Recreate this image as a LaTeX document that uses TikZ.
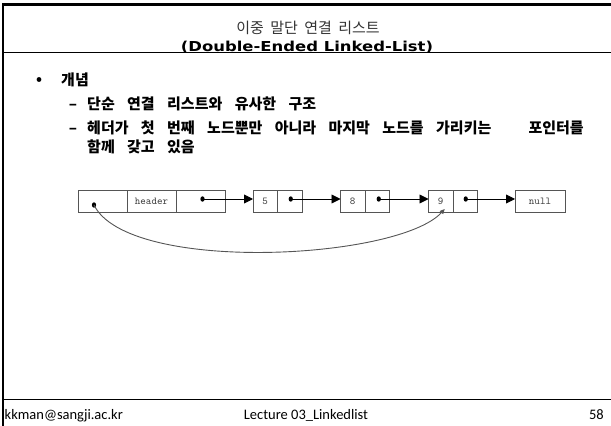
\documentclass[tikz,border=0pt]{standalone}
\usepackage{fontspec}
\setmainfont{Noto Sans CJK KR}
\newfontfamily\kr{Noto Sans CJK KR}
\newfontfamily\krw[WordSpace=1.8]{Noto Sans CJK KR}
\newfontfamily\krt[WordSpace=1.9]{Noto Sans CJK KR}
\newfontfamily\ttl[FakeStretch=1.2]{DejaVu Sans Bold}
\newfontfamily\foot{Carlito}
\usetikzlibrary{arrows.meta,calc}
\definecolor{boxgray}{HTML}{555555}
\definecolor{txtgray}{HTML}{3C3C3C}
\begin{document}
\begin{tikzpicture}[x=1pt,y=1pt,
  cellbox/.style={draw=boxgray,line width=0.9pt,minimum height=22pt,inner sep=0pt,outer sep=0pt,font=\ttfamily\fontsize{10.5}{12}\selectfont,text=txtgray},
  wide/.style={cellbox,minimum width=49pt},
  narrow/.style={cellbox,minimum width=24.5pt},
  ptr/.style={line width=0.9pt,-{Triangle[length=9pt,width=9pt]}},
  dotmark/.style={fill=black,draw=none},
  frame/.style={line width=2.4pt,black},
  rule/.style={line width=1pt,black},
  bodytxt/.style={inner sep=0pt,anchor=base west,font=\krw\bfseries\fontsize{15}{18}\selectfont},
  marktxt/.style={inner sep=0pt,anchor=base,font=\kr\bfseries\fontsize{15}{18}\selectfont},
  foottxt/.style={inner sep=0pt,font=\foot\fontsize{14.5}{16}\selectfont}
]
\useasboundingbox (0,0) rectangle (611,426);
% frame
\draw[frame] (3,0) -- (3,421.3) -- (611,421.3);
\draw[rule] (3,373.7) -- (611,373.7);
\draw[rule] (3,26) -- (611,26);
% title
\node[inner sep=0pt,anchor=base,font=\krt\fontsize{15}{18}\selectfont,text=black!80] (t1) at (308,392) {이중 말단 연결 리스트};
\node[inner sep=0pt,anchor=base,font=\ttl\fontsize{13.7}{16}\selectfont] (t2) at (307,374.6) {(Double-Ended Linked-List)};
% bullets
\node[marktxt] (b0) at (39,341) {•};
\node[bodytxt] (b1) at (61,340) {개념};
\node[marktxt] (d1) at (73,316) {–};
\node[bodytxt] (s1) at (87,316) {단순 연결 리스트와 유사한 구조};
\node[marktxt] (d2) at (73,292) {–};
\node[bodytxt] (s2) at (87,292) {헤더가 첫 번째 노드뿐만 아니라 마지막 노드를 가리키는\ \ \ 포인터를};
\node[bodytxt] (s3) at (87,273) {함께 갖고 있음};
% list
\node[wide] (h1) at (102.5,225) {};
\node[wide] (h2) at (151.5,225) {header};
\node[wide] (h3) at (200.5,225) {};
\node[narrow] (n5a) at (265.25,225) {5};
\node[narrow] (n5b) at (289.75,225) {};
\node[narrow] (n8a) at (352.75,225) {8};
\node[narrow] (n8b) at (377.25,225) {};
\node[narrow] (n9a) at (440.75,225) {9};
\node[narrow] (n9b) at (465.25,225) {};
\node[cellbox,minimum width=50pt] (nl) at (540,225) {null};
% pointers
\coordinate (p0) at ($(h1.center)+(-8.5,-4)$);
\coordinate (p1) at ($(h3.center)+(2,2)$);
\coordinate (p2) at ($(n5b.center)+(1,2)$);
\coordinate (p3) at ($(n8b.center)+(1.5,2)$);
\coordinate (p4) at ($(n9b.center)+(0.5,2)$);
\coordinate (e9) at ($(n9a.south)+(4,3)$);
\foreach \p in {p0,p1,p2,p3,p4}{\fill[dotmark] (\p) ellipse (2.1pt and 2.7pt);}
\draw[ptr] (p1) -- (p1 -| n5a.west);
\draw[ptr] (p2) -- (p2 -| n8a.west);
\draw[ptr] (p3) -- (p3 -| n9a.west);
\draw[ptr] (p4) -- (p4 -| nl.west);
\draw[line width=0.9pt,draw=boxgray,-{Triangle[length=5pt,width=4.5pt]}] (p0) .. controls (128,152) and (398,166) .. (e9);
% footer
\node[foottxt,anchor=base west] (f1) at (4.5,6.7) {kkman@sangji.ac.kr};
\node[foottxt,anchor=base] (f2) at (306,6.7) {Lecture 03\_Linkedlist};
\node[foottxt,anchor=base east] (f3) at (604,6.7) {58};
\end{tikzpicture}
\end{document}
